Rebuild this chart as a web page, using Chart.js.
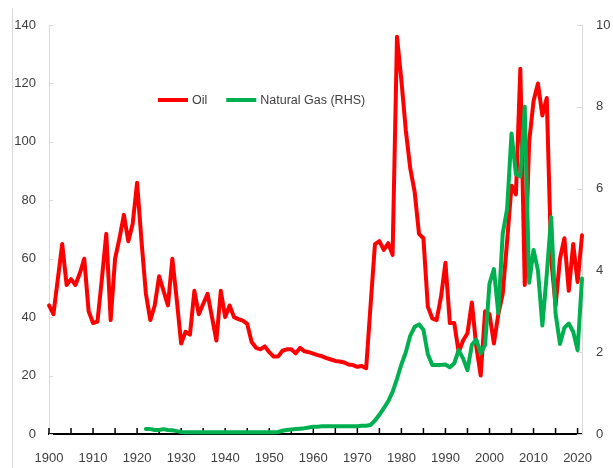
<!DOCTYPE html>
<html>
<head>
<meta charset="utf-8">
<title>Oil and natural gas prices</title>
<script src="https://cdn.jsdelivr.net/npm/chart.js@4.4.1/dist/chart.umd.min.js"></script>
<style>
  body { margin: 0; background: #fff; }
  #wrap { position: relative; width: 613px; height: 468px; }
  #frame { position: absolute; left: 12px; top: 8px; width: 1px; height: 460px; background: #d9d9d9; }
</style>
</head>
<body>
<div id="wrap">
  <canvas id="priceChart" width="613" height="468"></canvas>
  <div id="frame"></div>
</div>
<script>
// one value per year, 1900..2021
const firstYear = 1900;
const years = Array.from({ length: 122 }, (_, i) => firstYear + i);

const oil = [
  44, 41, 53, 65, 51, 53, 51, 55, 60, 42,           // 1900s
  38, 38.5, 53, 68.5, 39, 60, 67, 75, 66, 72,       // 1910s
  86, 66, 48, 39, 44, 54, 49, 44, 60, 46,           // 1920s
  31, 35, 34, 49, 41, 44.5, 48, 40, 32, 49,         // 1930s
  40, 44, 40, 39.3, 38.8, 37.7, 31.5, 29.5, 29, 30, // 1940s
  28, 26.5, 26.5, 28.5, 29, 29, 27.6, 29.5, 28.3, 28, // 1950s
  27.5, 27, 26.6, 26, 25.5, 25, 24.8, 24.5, 23.8, 23.6, // 1960s
  23, 23.3, 22.5, 44, 65, 66, 63, 65.3, 61.3, 136,  // 1970s
  121, 104, 91, 83, 68.5, 67, 43.6, 39.6, 39, 47,   // 1980s
  58.6, 38, 38, 28, 32, 34.5, 45, 30, 20, 42,       // 1990s
  41, 31, 41, 48, 66, 85, 82, 125, 51, 100,         // 2000s
  114, 120, 109, 115, 60, 44, 60, 67, 49, 65,       // 2010s
  52, 68                                            // 2020s
];

// natural gas (right axis), series begins in 1922
const gas = [
  null, null, null, null, null, null, null, null, null, null,
  null, null, null, null, null, null, null, null, null, null,
  null, null, 0.12, 0.12, 0.1, 0.1, 0.12, 0.1, 0.09, 0.07,
  0.05, 0.04, 0.04, 0.04, 0.04, 0.04, 0.04, 0.04, 0.04, 0.04,
  0.04, 0.04, 0.04, 0.04, 0.04, 0.04, 0.04, 0.04, 0.04, 0.04,
  0.04, 0.04, 0.05, 0.08, 0.1, 0.11, 0.12, 0.13, 0.14, 0.16,
  0.18, 0.18, 0.19, 0.19, 0.19, 0.19, 0.19, 0.19, 0.19, 0.19,
  0.19, 0.2, 0.2, 0.22, 0.33, 0.47, 0.63, 0.8, 1.03, 1.35,
  1.7, 2.0, 2.4, 2.62, 2.68, 2.55, 1.95, 1.69, 1.69, 1.69,
  1.7, 1.63, 1.73, 2.05, 1.85, 1.56, 2.18, 2.31, 1.97, 2.18,
  3.68, 4.03, 2.95, 4.9, 5.5, 7.35, 6.35, 6.3, 8.0, 3.7,
  4.5, 4.0, 2.65, 3.9, 5.3, 2.95, 2.2, 2.6, 2.7, 2.5,
  2.05, 3.8
];

const xTickYears = [1900, 1905, 1910, 1915, 1920, 1925, 1930, 1935, 1940, 1945, 1950, 1955, 1960,
  1965, 1970, 1975, 1980, 1985, 1990, 1995, 2000, 2005, 2010, 2015, 2020];
const leftTicks = [0, 20, 40, 60, 80, 100, 120, 140];
const rightTicks = [0, 2, 4, 6, 8, 10];

const FONT = "'Liberation Sans', Arial, sans-serif";
const TEXT = '#404040';

// short tick marks drawn inward from each axis line
const insideTicks = {
  id: 'insideTicks',
  beforeDatasetsDraw(chart) {
    const { ctx, scales } = chart;
    ctx.save();
    ctx.lineWidth = 1;
    ctx.strokeStyle = '#d9d9d9';
    scales.y.ticks.forEach(t => {
      const py = Math.round(scales.y.getPixelForValue(t.value)) + 0.5;
      ctx.beginPath(); ctx.moveTo(scales.y.right, py); ctx.lineTo(scales.y.right + 4, py); ctx.stroke();
    });
    scales.y2.ticks.forEach(t => {
      const py = Math.round(scales.y2.getPixelForValue(t.value)) + 0.5;
      ctx.beginPath(); ctx.moveTo(scales.y2.left, py); ctx.lineTo(scales.y2.left - 5, py); ctx.stroke();
    });
    ctx.strokeStyle = '#000';
    ctx.lineWidth = 1.5;
    scales.x.ticks.forEach(t => {
      const px = scales.x.getPixelForValue(t.value);
      ctx.beginPath(); ctx.moveTo(px, scales.x.top); ctx.lineTo(px, scales.x.top - 6); ctx.stroke();
    });
    ctx.restore();
  }
};

// legend sitting inside the plot
const inlineLegend = {
  id: 'inlineLegend',
  afterDraw(chart, args, opts) {
    const ctx = chart.ctx;
    let x = opts.x;
    const y = opts.y;
    ctx.save();
    ctx.font = opts.size + 'px ' + FONT;
    ctx.textBaseline = 'middle';
    ctx.fillStyle = TEXT;
    chart.data.datasets.forEach(ds => {
      ctx.strokeStyle = ds.borderColor;
      ctx.lineWidth = 4;
      ctx.beginPath(); ctx.moveTo(x, y); ctx.lineTo(x + opts.sample, y); ctx.stroke();
      x += opts.sample + 4;
      ctx.fillText(ds.label, x, y + 1);
      x += ctx.measureText(ds.label).width + opts.gap;
    });
    ctx.restore();
  }
};

const tickFont = { family: FONT, size: 13 };

new Chart(document.getElementById('priceChart'), {
  type: 'line',
  data: {
    datasets: [
      {
        label: 'Oil',
        data: years.map((yr, i) => ({ x: yr, y: oil[i] })),
        yAxisID: 'y',
        borderColor: '#ff0000',
        borderWidth: 4,
        order: 2
      },
      {
        label: 'Natural Gas (RHS)',
        data: years.map((yr, i) => ({ x: yr, y: gas[i] })),
        yAxisID: 'y2',
        borderColor: '#00b050',
        borderWidth: 4,
        order: 1
      }
    ]
  },
  options: {
    responsive: false,
    animation: false,
    devicePixelRatio: 1,
    layout: { padding: { top: 25, left: 0, right: 0, bottom: 0 } },
    elements: {
      point: { radius: 0 },
      line: { tension: 0, borderJoinStyle: 'round', borderCapStyle: 'round', fill: false }
    },
    datasets: { line: { clip: false, spanGaps: false } },
    plugins: {
      legend: { display: false },
      tooltip: { enabled: false },
      inlineLegend: { x: 158, y: 100, sample: 30, gap: 19, size: 12.5 }
    },
    scales: {
      x: {
        type: 'linear',
        min: 1900,
        max: 2021,
        afterFit: s => { s.height = 34; },
        afterBuildTicks: s => { s.ticks = xTickYears.map(v => ({ value: v })); },
        grid: { display: false, drawTicks: false },
        border: { display: true, color: '#000', width: 2 },
        ticks: {
          autoSkip: false,
          maxRotation: 0,
          padding: 17,
          color: TEXT,
          font: tickFont,
          callback: v => (v % 10 === 0 ? String(v) : '')
        }
      },
      y: {
        position: 'left',
        min: 0,
        max: 140,
        afterFit: s => { s.width = 49; },
        afterBuildTicks: s => { s.ticks = leftTicks.map(v => ({ value: v })); },
        grid: { display: false, drawTicks: false },
        border: { display: true, color: '#d9d9d9', width: 1 },
        ticks: { padding: 13, color: TEXT, font: tickFont }
      },
      y2: {
        position: 'right',
        min: 0,
        max: 10,
        afterFit: s => { s.width = 31; },
        afterBuildTicks: s => { s.ticks = rightTicks.map(v => ({ value: v })); },
        grid: { display: false, drawTicks: false },
        border: { display: true, color: '#d9d9d9', width: 1 },
        ticks: { padding: 14, color: TEXT, font: tickFont }
      }
    }
  },
  plugins: [insideTicks, inlineLegend]
});
</script>
</body>
</html>
